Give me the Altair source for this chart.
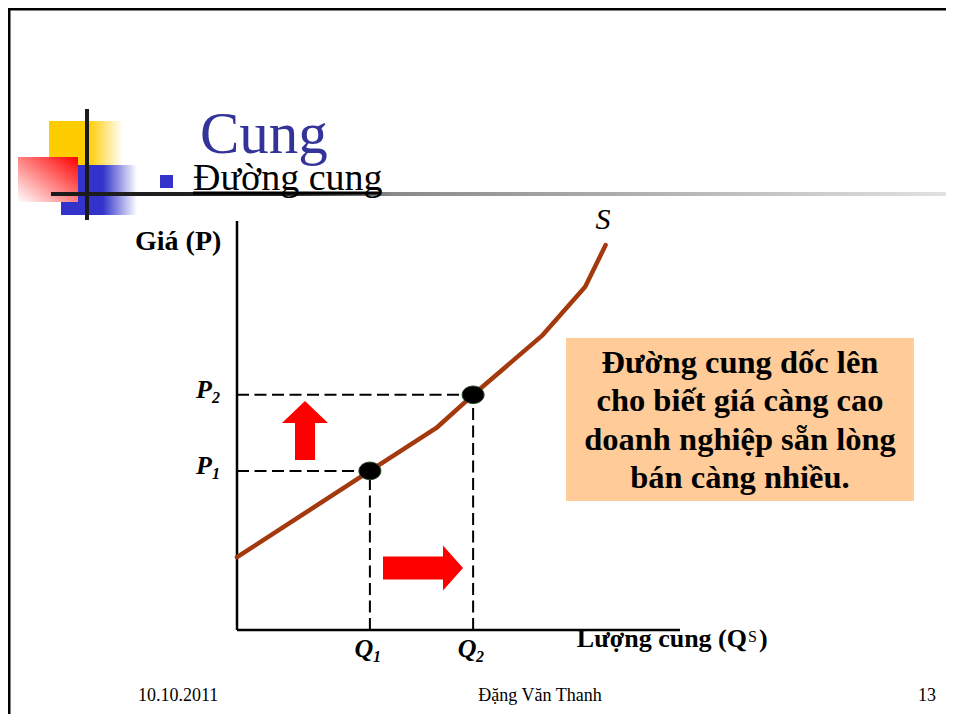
import altair as alt
import pandas as pd

# ---------------- data (economic units: both axes run 0..100) ----------------
curve_q = [0, 30.0, 45.0, 53.3, 69.0, 78.6, 83.2]
curve_p = [17.8, 38.9, 49.4, 57.5, 72.1, 83.9, 94.1]
point_q = [30.0, 53.3]
point_p = [38.9, 57.5]
point_sub = ["1", "2"]
axis_max = [100, 100]

title_text = "Cung"
bullet_text = "Đường cung"
y_title = "Giá (P)"
x_title = "Lượng cung (Q"
x_title_sup = "S"
x_title_end = ")"
curve_name = "S"
box_lines = ["Đường cung dốc lên", "cho biết giá càng cao",
             "doanh nghiệp sẵn lòng", "bán càng nhiều."]
footer_left = "10.10.2011"
footer_mid = "Đặng Văn Thanh"
footer_right = "13"

# ---------------- layout (page pixels -> data units) ----------------
OX, OY = 237.0, 630.0      # page position of the axis origin
KX, KY = 4.43, 4.09        # pixels per data unit
W, H = 938, 706            # fits 954x722 page with its 8px margins


def qx(px):
    return (px - OX) / KX


def pv(py):
    return (OY - py) / KY


XS = alt.Scale(domain=[qx(8), qx(8 + W)], nice=False, zero=False)
YS = alt.Scale(domain=[pv(8 + H), pv(8)], nice=False, zero=False)
SERIF = "Liberation Serif"


def enc_xy(ch, with2=False):
    e = dict(x=alt.X("x:Q", scale=XS, axis=None), y=alt.Y("y:Q", scale=YS, axis=None))
    if with2:
        e["x2"] = alt.X2("x2:Q")
        e["y2"] = alt.Y2("y2:Q")
    return ch.encode(**e)


def rect_px(x1, x2, y1, y2, **mk):
    df = pd.DataFrame({"x": [qx(x1)], "x2": [qx(x2)], "y": [pv(y1)], "y2": [pv(y2)]})
    return enc_xy(alt.Chart(df).mark_rect(**mk), True)


def grad(stops, x1=0, y1=0, x2=1, y2=0):
    return alt.LinearGradient(
        gradient="linear",
        stops=[alt.GradientStop(offset=o, color=c) for o, c in stops],
        x1=x1, y1=y1, x2=x2, y2=y2)


def text_px(t, x, y, **mk):
    df = pd.DataFrame({"x": [qx(x)], "y": [pv(y)], "t": [t]})
    mk.setdefault("baseline", "alphabetic")
    mk.setdefault("font", SERIF)
    return enc_xy(alt.Chart(df).mark_text(**mk), False).encode(text="t:N")


layers = []

# slide border (top / left)
layers.append(rect_px(8, 954, 8, 10.5, color="black"))
layers.append(rect_px(8, 10.5, 8, 722, color="black"))

# decorative squares
layers.append(rect_px(49, 123, 121, 175, color=grad([(0, "#FFCC00"), (0.53, "#FFCC00"), (1, "#FFFFFF")])))
layers.append(rect_px(61, 137, 165, 215, color=grad([(0, "#3333CC"), (0.55, "#3333CC"), (1, "#FFFFFF")])))
layers.append(rect_px(18, 78, 157, 202, color=grad([(0, "#FF0000"), (1, "#FFFFFF")], x1=1, y1=0, x2=0, y2=1)))
layers.append(rect_px(85, 89, 109, 220, color="#1A1A1A"))
layers.append(rect_px(51, 954, 192, 196,
                      color=grad([(0, "#1A1A1A"), (0.26, "#262626"), (0.38, "#8A8A8A"), (1, "#E2E2E2")])))
layers.append(rect_px(193, 380, 191.5, 194.5, color="black"))
layers.append(rect_px(160, 173, 175, 188, color="#3333CC"))

# title texts
layers.append(text_px(title_text, 200, 153, fontSize=59, color="#333399", align="left"))
layers.append(text_px(bullet_text, 193, 190, fontSize=38, color="black", align="left"))

# text box
layers.append(rect_px(566, 914, 338, 501, color="#FFCC99"))
for i, line in enumerate(box_lines):
    layers.append(text_px(line, 740, 373 + 38.4 * i, fontSize=32.5, fontWeight="bold",
                          color="black", align="center"))

# axes
ax = pd.DataFrame({"x": [0, 0], "x2": [0, axis_max[0]], "y": [0, 0], "y2": [axis_max[1], 0]})
layers.append(enc_xy(alt.Chart(ax).mark_rule(color="black", strokeWidth=2.5), True))

# dashed guides
rows = []
for q, p in zip(point_q, point_p):
    rows.append({"x": 0, "x2": q, "y": p, "y2": p})
    rows.append({"x": q, "x2": q, "y": 0, "y2": p})
layers.append(enc_xy(alt.Chart(pd.DataFrame(rows)).mark_rule(
    color="black", strokeWidth=2, strokeDash=[12, 5.5]), True))

# supply curve
cdf = pd.DataFrame({"x": curve_q, "y": curve_p})
layers.append(enc_xy(alt.Chart(cdf).mark_line(color="#A3390C", strokeWidth=4.5,
                                              strokeCap="round", strokeJoin="round"), False))

# red arrows
up_arrow = "M0,-1 L0.78,-0.254 L0.339,-0.254 L0.339,1 L-0.339,1 L-0.339,-0.254 L-0.78,-0.254 Z"
right_arrow = "M1,0 L0.5,0.5625 L0.5,0.2875 L-1,0.2875 L-1,-0.2875 L0.5,-0.2875 L0.5,-0.5625 Z"
for shape, cx, cy, size in [(up_arrow, 305, 430.5, 59 ** 2), (right_arrow, 423, 568, 80 ** 2)]:
    adf = pd.DataFrame({"x": [qx(cx)], "y": [pv(cy)]})
    layers.append(enc_xy(alt.Chart(adf).mark_point(shape=shape, size=size, filled=True,
                                                   fill="#FF0000", strokeWidth=0, opacity=1), False))

# equilibrium dots
ellipse = "M-1,0 A1,0.8 0 1,1 1,0 A1,0.8 0 1,1 -1,0 Z"
ddf = pd.DataFrame({"x": point_q, "y": point_p})
layers.append(enc_xy(alt.Chart(ddf).mark_point(shape=ellipse, size=484, filled=True, fill="black",
                                               stroke="#2E4A2E", strokeWidth=1, opacity=1), False))

# P labels
pl = pd.DataFrame({"x": [qx(196)] * 2, "y": point_p, "t": ["P", "P"]})
layers.append(enc_xy(alt.Chart(pl).mark_text(font=SERIF, fontSize=26, fontWeight="bold", fontStyle="italic",
                                             align="left", baseline="alphabetic", dy=3, color="black"),
                     False).encode(text="t:N"))
ps = pd.DataFrame({"x": [qx(212)] * 2, "y": point_p, "t": point_sub})
layers.append(enc_xy(alt.Chart(ps).mark_text(font=SERIF, fontSize=16, fontWeight="bold", fontStyle="italic",
                                             align="left", baseline="alphabetic", dy=8, color="black"),
                     False).encode(text="t:N"))
# Q labels
ql = pd.DataFrame({"x": point_q, "y": [pv(657)] * 2, "t": ["Q", "Q"]})
layers.append(enc_xy(alt.Chart(ql).mark_text(font=SERIF, fontSize=26, fontWeight="bold", fontStyle="italic",
                                             align="center", baseline="alphabetic", dx=-6, color="black"),
                     False).encode(text="t:N"))
qs = pd.DataFrame({"x": point_q, "y": [pv(662)] * 2, "t": point_sub})
layers.append(enc_xy(alt.Chart(qs).mark_text(font=SERIF, fontSize=16, fontWeight="bold", fontStyle="italic",
                                             align="left", baseline="alphabetic", dx=3, color="black"),
                     False).encode(text="t:N"))

# axis titles and curve name
layers.append(text_px(y_title, 135, 250, fontSize=28, fontWeight="bold", align="left", color="black"))
layers.append(text_px(x_title, 747, 647, fontSize=26, fontWeight="bold", align="right", color="black"))
layers.append(text_px(x_title_sup, 748, 642, fontSize=16, align="left", color="black"))
layers.append(text_px(x_title_end, 759, 647, fontSize=26, fontWeight="bold", align="left", color="black"))
layers.append(text_px(curve_name, 603, 229, fontSize=30, fontStyle="italic", align="center", color="black"))

# footer
layers.append(text_px(footer_left, 138, 701, fontSize=18, align="left", color="black"))
layers.append(text_px(footer_mid, 540, 701, fontSize=18, align="center", color="black"))
layers.append(text_px(footer_right, 918, 701, fontSize=18, align="left", color="black"))

chart = alt.layer(*layers).properties(
    width=W, height=H, padding=0, autosize="none", background="white"
).configure_view(strokeWidth=0)

chart.save("out.html", embed_options={"renderer": "svg", "actions": False})
